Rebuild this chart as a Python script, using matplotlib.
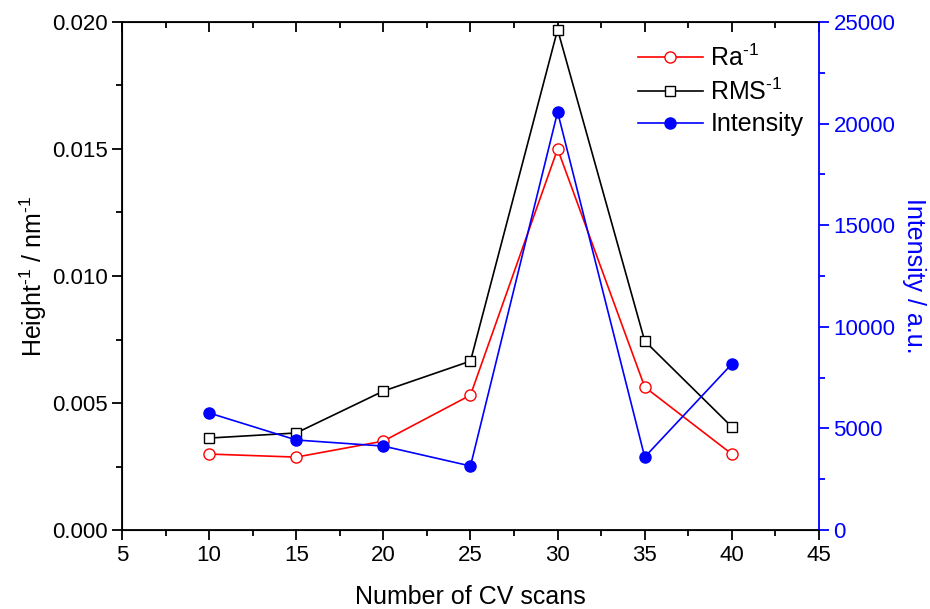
import matplotlib
matplotlib.use('Agg')
import matplotlib.pyplot as plt
from matplotlib.ticker import MultipleLocator

plt.rcParams['font.family'] = ['Liberation Sans', 'DejaVu Sans']
plt.rcParams['mathtext.fontset'] = 'custom'
plt.rcParams['mathtext.rm'] = 'Liberation Sans'
plt.rcParams['mathtext.it'] = 'Liberation Sans'

# data
scans = [10, 15, 20, 25, 30, 35, 40]
ra_inv = [0.00299, 0.00287, 0.00350, 0.00531, 0.0150, 0.00563, 0.00299]
rms_inv = [0.00362, 0.00382, 0.00547, 0.00665, 0.0197, 0.00744, 0.00406]
intensity = [5760, 4430, 4130, 3150, 20570, 3590, 8170]

fig = plt.figure(figsize=(9.3, 6.09), dpi=100)
ax = fig.add_axes([0.1312, 0.1297, 0.7494, 0.8342])
ax2 = ax.twinx()

l1, = ax.plot(scans, ra_inv, color='red', lw=1.2, marker='o', ms=8,
              mfc='white', mec='red', mew=1.0, label=r'Ra$^{\text{-1}}$')
l2, = ax.plot(scans, rms_inv, color='black', lw=1.2, marker='s', ms=7,
              mfc='white', mec='black', mew=1.0, label=r'RMS$^{\text{-1}}$')
l3, = ax2.plot(scans, intensity, color='blue', lw=1.2, marker='o', ms=8,
               mfc='blue', mec='blue', label='Intensity')

ax.set_xlim(5, 45)
ax.set_ylim(0, 0.020)
ax2.set_ylim(0, 25000)

ax.xaxis.set_major_locator(MultipleLocator(5))
ax.xaxis.set_minor_locator(MultipleLocator(2.5))
ax.yaxis.set_major_locator(MultipleLocator(0.005))
ax.yaxis.set_minor_locator(MultipleLocator(0.0025))
ax.yaxis.set_major_formatter(matplotlib.ticker.FormatStrFormatter('%.3f'))
ax2.yaxis.set_major_locator(MultipleLocator(5000))
ax2.yaxis.set_minor_locator(MultipleLocator(2500))

ax.tick_params(axis='both', which='both', direction='out', labelsize=16, width=1.3)
ax.tick_params(which='major', length=7)
ax.tick_params(which='minor', length=4)
ax.tick_params(axis='x', top=True, which='both')
ax2.tick_params(axis='y', which='both', direction='out', colors='blue',
                labelsize=16, width=1.3)
ax2.tick_params(which='major', length=7)
ax2.tick_params(which='minor', length=4)

# top ticks point inward
for t in ax.xaxis.get_major_ticks() + ax.xaxis.get_minor_ticks():
    t.tick2line.set_marker(matplotlib.lines.TICKDOWN)

for s in ['left', 'bottom', 'top']:
    ax.spines[s].set_linewidth(1.3)
ax2.spines['right'].set_color('blue')
ax2.spines['right'].set_linewidth(1.3)
ax.spines['right'].set_visible(False)

ax.set_xlabel('Number of CV scans', fontsize=18, labelpad=14)
ax.set_ylabel(r'Height$^{\text{-1}}$ / nm$^{\text{-1}}$', fontsize=18, labelpad=2)
ax2.set_ylabel('Intensity / a.u.', fontsize=18, color='blue', rotation=270, labelpad=22)

ax.legend(handles=[l1, l2, l3], loc='upper right', bbox_to_anchor=(1.01, 1.0),
          frameon=False, fontsize=18, handlelength=2.6, handletextpad=0.3,
          labelspacing=0.3)

plt.savefig('out.png', dpi=100)
